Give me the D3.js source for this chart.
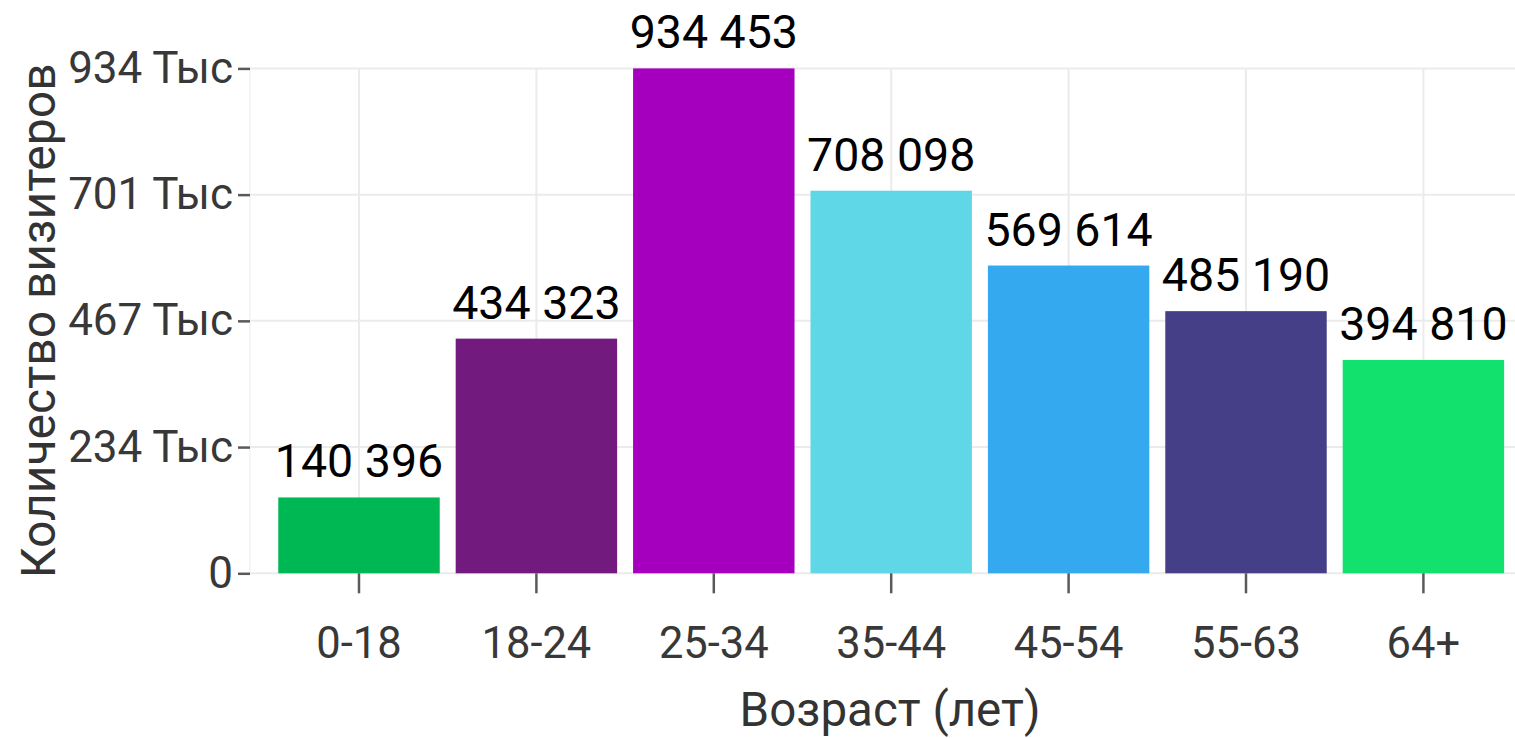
<!DOCTYPE html>
<html>
<head>
<meta charset="utf-8">
<script src="https://cdn.jsdelivr.net/npm/d3@7"></script>
<style>
  body { margin: 0; background: #fff; overflow: hidden; }
  svg { display: block; font-family: Roboto, sans-serif; }
</style>
</head>
<body>
<svg id="chart" width="1515" height="738"></svg>
<script>
// данные
const ageGroups = ["0-18", "18-24", "25-34", "35-44", "45-54", "55-63", "64+"];
const visitors = [140396, 434323, 934453, 708098, 569614, 485190, 394810];
const barColors = ["#00b853", "#721a7e", "#a400be", "#5fd7e6", "#35a9ef", "#453f87", "#12e26d"];

const svg = d3.select("#chart");
const panel = { left: 250, right: 1530, top: 40, bottom: 573.3 };

const maxV = d3.max(visitors);
const yTicks = [0, maxV / 4, maxV / 2, (maxV * 3) / 4, maxV];

const x = d3
  .scaleBand()
  .domain(ageGroups)
  .range([270.3, 270.3 + 7 * 177.4])
  .paddingInner(0.09)
  .paddingOuter(0.045);

const y = d3.scaleLinear().domain([0, maxV]).range([panel.bottom, 68.4]);

// сетка
const grid = svg.append("g");
grid
  .selectAll("line.h")
  .data(yTicks)
  .enter()
  .append("line")
  .attr("x1", panel.left)
  .attr("x2", panel.right)
  .attr("y1", (d) => y(d))
  .attr("y2", (d) => y(d))
  .attr("stroke", "#ebebeb")
  .attr("stroke-width", 2);

grid
  .selectAll("line.v")
  .data(ageGroups)
  .enter()
  .append("line")
  .attr("x1", (d) => x(d) + x.bandwidth() / 2)
  .attr("x2", (d) => x(d) + x.bandwidth() / 2)
  .attr("y1", y(maxV))
  .attr("y2", panel.bottom)
  .attr("stroke", "#ebebeb")
  .attr("stroke-width", 2);

grid
  .append("line")
  .attr("x1", panel.left)
  .attr("x2", panel.left)
  .attr("y1", y(maxV))
  .attr("y2", panel.bottom)
  .attr("stroke", "#f2f2f2")
  .attr("stroke-width", 1.5);

// столбцы
svg
  .selectAll("rect.bar")
  .data(visitors)
  .enter()
  .append("rect")
  .attr("x", (d, i) => x(ageGroups[i]))
  .attr("y", (d) => y(d))
  .attr("width", x.bandwidth())
  .attr("height", (d) => panel.bottom - y(d))
  .attr("fill", (d, i) => barColors[i]);

// подписи значений
const fmt = (v) => d3.format(",")(v).replace(/,/g, " ");
svg
  .selectAll("text.val")
  .data(visitors)
  .enter()
  .append("text")
  .attr("x", (d, i) => x(ageGroups[i]) + x.bandwidth() / 2)
  .attr("y", (d) => y(d) - 20)
  .attr("text-anchor", "middle")
  .attr("font-size", 46.5)
  .attr("fill", "#000")
  .text((d) => fmt(d));

// ось Y
const yAxis = d3
  .axisLeft(y)
  .tickValues(yTicks)
  .tickSize(12)
  .tickPadding(5)
  .tickFormat((d) => (d === 0 ? "0" : Math.round(d / 1000) + " Тыс"));

const gy = svg
  .append("g")
  .attr("transform", `translate(${panel.left},0)`)
  .call(yAxis);
gy.select(".domain").remove();
gy.selectAll(".tick line").attr("stroke", "#5a5a5a").attr("stroke-width", 2.5);
gy.selectAll(".tick text")
  .attr("font-size", 44)
  .attr("fill", "#383838")
  .attr("font-family", "Roboto, sans-serif");

// ось X
const xAxis = d3.axisBottom(x).tickSize(20).tickPadding(34);
const gx = svg
  .append("g")
  .attr("transform", `translate(0,${panel.bottom})`)
  .call(xAxis);
gx.select(".domain").remove();
gx.selectAll(".tick line").attr("stroke", "#5a5a5a").attr("stroke-width", 2.5);
gx.selectAll(".tick text")
  .attr("font-size", 43.5)
  .attr("fill", "#383838")
  .attr("font-family", "Roboto, sans-serif");

// заголовки осей
svg
  .append("text")
  .attr("x", 890)
  .attr("y", 726)
  .attr("text-anchor", "middle")
  .attr("font-size", 47.5)
  .attr("fill", "#333")
  .text("Возраст (лет)");

svg
  .append("text")
  .attr("transform", `translate(55,${(y(maxV) + panel.bottom) / 2}) rotate(-90)`)
  .attr("text-anchor", "middle")
  .attr("font-size", 48)
  .attr("fill", "#333")
  .text("Количество визитеров");
</script>
</body>
</html>
